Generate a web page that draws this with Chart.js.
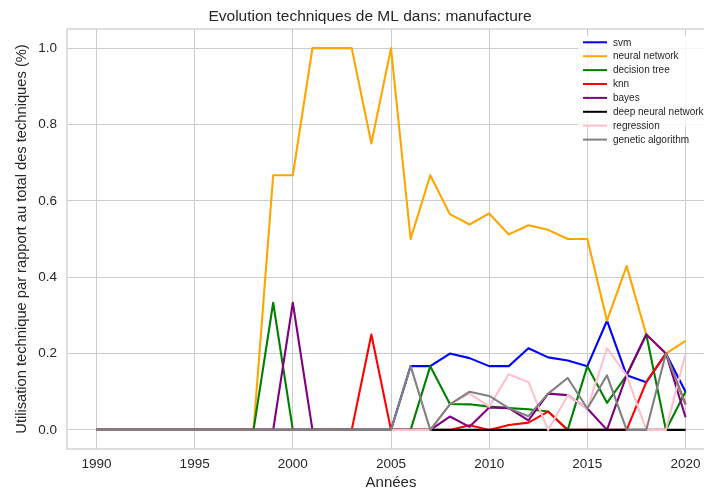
<!DOCTYPE html>
<html>
<head>
<meta charset="utf-8">
<script src="https://cdn.jsdelivr.net/npm/chart.js@4/dist/chart.umd.min.js"></script>
<style>
  html, body { margin: 0; padding: 0; background: #ffffff; overflow: hidden; }
  #wrap { width: 740px; height: 493px; }
</style>
</head>
<body>
<div id="wrap"><canvas id="c" width="740" height="493"></canvas></div>
<script>
// ---- data ----
const years = [1990,1991,1992,1993,1994,1995,1996,1997,1998,1999,2000,2001,2002,2003,2004,2005,2006,2007,2008,2009,2010,2011,2012,2013,2014,2015,2016,2017,2018,2019,2020];

const svm            = [0,0,0,0,0,0,0,0,0,0,0,0,0,0,0,0, 0.167,0.167,0.2,0.188,0.167,0.167,0.214,0.19,0.182,0.167,0.286,0.143,0.125,0.2,0.1];
const neuralNetwork  = [0,0,0,0,0,0,0,0,0, 0.667,0.667,1,1,1,0.75,1,0.5,0.667,0.565,0.538,0.567,0.512,0.536,0.524,0.5,0.5,0.286,0.429,0.25,0.2,0.233];
const decisionTree   = [0,0,0,0,0,0,0,0,0, 0.333,0,0,0,0,0,0,0, 0.167,0.068,0.067,0.061,0.057,0.054,0.048,0,0.167,0.071,0.143,0.25,0,0.1];
const knn            = [0,0,0,0,0,0,0,0,0,0,0,0,0,0, 0.25,0,0,0,0,0.012,0,0.013,0.019,0.048,0,0,0,0,0.125,0.2,0.067];
const bayes          = [0,0,0,0,0,0,0,0,0,0, 0.333,0,0,0,0,0,0,0, 0.035,0.008,0.059,0.057,0.025,0.095,0.091,0.056,0,0.143,0.25,0.2,0.033];
const deepNeural     = [0,0,0,0,0,0,0,0,0,0,0,0,0,0,0,0,0,0,0,0,0,0,0,0,0,0,0,0,0,0,0];
const regression     = [0,0,0,0,0,0,0,0,0,0,0,0,0,0,0,0,0,0, 0.067,0.095,0.061,0.146,0.125,0,0.091,0.056,0.214,0.143,0,0,0.2];
const geneticAlgo    = [0,0,0,0,0,0,0,0,0,0,0,0,0,0,0,0, 0.167,0,0.067,0.1,0.089,0.057,0.036,0.095,0.136,0.056,0.143,0,0,0.2,0.067];

const seriesNames  = ['svm','neural network','decision tree','knn','bayes','deep neural network','regression','genetic algorithm'];
const seriesValues = [svm, neuralNetwork, decisionTree, knn, bayes, deepNeural, regression, geneticAlgo];
const seriesColors = ['#0000ff','#ffa500','#008000','#ff0000','#800080','#000000','#ffc0cb','#808080'];

const xTicks = [1990,1995,2000,2005,2010,2015,2020];
const yTicks = [0.0,0.2,0.4,0.6,0.8,1.0];

const titleText = 'Evolution techniques de ML dans: manufacture';
const xLabel = 'Années';
const yLabel = 'Utilisation technique par rapport au total des techniques (%)';

// ---- chart ----
const FONT = "'Liberation Sans', Arial, sans-serif";
const TXT = '#262626';
const GRID = '#cccccc';

const datasets = seriesValues.map((vals, i) => ({
  label: seriesNames[i],
  data: years.map((yr, j) => ({x: yr, y: vals[j]})),
  borderColor: seriesColors[i],
  backgroundColor: seriesColors[i],
  borderWidth: 2.1,
  pointRadius: 0,
  pointHoverRadius: 0,
  tension: 0,
  fill: false,
  borderJoinStyle: 'round',
  order: seriesValues.length - i
}));

const titleShiftPlugin = {
  id: 'titleShift',
  afterLayout(chart) {
    const t = chart.titleBlock;
    if (t) { t.left += 12.5; t.right += 12.5; }
  }
};

const framePlugin = {
  id: 'frame',
  beforeDatasetsDraw(chart) {
    const {ctx, chartArea: a} = chart;
    ctx.save();
    ctx.strokeStyle = GRID;
    ctx.lineWidth = 1.25;
    ctx.strokeRect(a.left, a.top, a.right - a.left, a.bottom - a.top);
    ctx.restore();
  }
};

const legendPlugin = {
  id: 'customLegend',
  afterDatasetsDraw(chart) {
    const {ctx, chartArea: a} = chart;
    const x0 = a.left + 516;   // legend line start
    const y0 = a.top + 13.3;   // first row centre
    const rowH = 13.9;
    ctx.save();
    ctx.fillStyle = 'rgba(255,255,255,0.8)';
    ctx.fillRect(x0 - 5, a.top + 7, 140, 90);
    ctx.font = '10px ' + FONT;
    ctx.textBaseline = 'middle';
    ctx.textAlign = 'left';
    seriesNames.forEach((name, i) => {
      const y = y0 + i * rowH;
      ctx.strokeStyle = seriesColors[i];
      ctx.lineWidth = 2;
      ctx.beginPath();
      ctx.moveTo(x0, y);
      ctx.lineTo(x0 + 24, y);
      ctx.stroke();
      ctx.fillStyle = TXT;
      ctx.fillText(name, x0 + 30, y + 0.5);
    });
    ctx.restore();
  }
};

new Chart(document.getElementById('c'), {
  type: 'line',
  data: { datasets },
  options: {
    responsive: false,
    animation: false,
    events: [],
    layout: { padding: { left: 0, right: 25, top: 0, bottom: 0 } },
    plugins: {
      legend: { display: false },
      tooltip: { enabled: false },
      title: {
        display: true,
        text: titleText,
        color: TXT,
        font: { family: FONT, size: 15.5, weight: 'normal' },
        padding: { top: 7.2, bottom: 3.2 }
      }
    },
    scales: {
      x: {
        type: 'linear',
        min: 1988.5,
        max: 2021.5,
        afterBuildTicks: s => { s.ticks = xTicks.map(v => ({value: v})); },
        afterFit: s => { s.height = 44; },
        ticks: {
          color: TXT,
          font: { family: FONT, size: 13.5 },
          padding: 7,
          maxRotation: 0,
          callback: v => String(v)
        },
        grid: { color: GRID, lineWidth: 1, drawTicks: false },
        border: { display: false },
        title: {
          display: true,
          text: xLabel,
          color: TXT,
          font: { family: FONT, size: 15 },
          padding: { top: 0, bottom: 1 }
        }
      },
      y: {
        type: 'linear',
        min: -0.05,
        max: 1.05,
        afterBuildTicks: s => { s.ticks = yTicks.map(v => ({value: v})); },
        afterFit: s => { s.width = 67; },
        ticks: {
          color: TXT,
          font: { family: FONT, size: 13.5 },
          padding: 10,
          callback: v => Number(v).toFixed(1)
        },
        grid: { color: GRID, lineWidth: 1, drawTicks: false },
        border: { display: false },
        title: {
          display: true,
          text: yLabel,
          color: TXT,
          font: { family: FONT, size: 14.7 },
          padding: { top: 12.7, bottom: 0 }
        }
      }
    }
  },
  plugins: [titleShiftPlugin, framePlugin, legendPlugin]
});
</script>
</body>
</html>
